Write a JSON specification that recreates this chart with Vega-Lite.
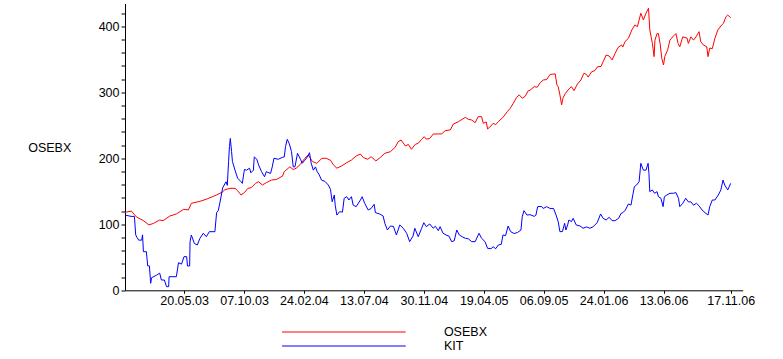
{
  "$schema": "https://vega.github.io/schema/vega-lite/v6.json",
  "width": 617.7,
  "height": 286.8,
  "autosize": {"type": "none"},
  "padding": {"left": 125, "top": 3.5, "right": 40.3, "bottom": 68.7},
  "background": "white",
  "config": {
    "view": {"stroke": null},
    "font": "Liberation Sans",
    "axis": {"domainColor": "black", "tickColor": "black", "labelColor": "black", "titleColor": "black", "labelFont": "Liberation Sans", "titleFont": "Liberation Sans", "grid": false, "domainWidth": 1, "tickWidth": 1}
  },
  "datasets": {
    "osebx": [
      {"date":"2003-01-02","value":118},{"date":"2003-01-17","value":120},{"date":"2003-01-29","value":111},{"date":"2003-02-14","value":105.5},{"date":"2003-02-27","value":99},{"date":"2003-03-10","value":101.5},{"date":"2003-03-24","value":106.5},{"date":"2003-04-01","value":105.5},{"date":"2003-04-17","value":112.6},{"date":"2003-05-02","value":115.6},{"date":"2003-05-19","value":122.7},{"date":"2003-05-30","value":121.7},{"date":"2003-06-06","value":131.8},{"date":"2003-06-26","value":134.8},{"date":"2003-07-11","value":138},{"date":"2003-08-04","value":144.4},{"date":"2003-08-19","value":149.4},{"date":"2003-08-22","value":152},{"date":"2003-09-04","value":154.5},{"date":"2003-09-16","value":154.5},{"date":"2003-09-22","value":151},{"date":"2003-09-30","value":144.4},{"date":"2003-10-08","value":148},{"date":"2003-10-16","value":154.5},{"date":"2003-10-24","value":155.5},{"date":"2003-11-03","value":162},{"date":"2003-11-10","value":164.5},{"date":"2003-11-19","value":159.5},{"date":"2003-11-28","value":163},{"date":"2003-12-10","value":167},{"date":"2003-12-22","value":168},
      {"date":"2004-01-05","value":173},{"date":"2004-01-09","value":179.7},{"date":"2004-01-22","value":187},{"date":"2004-01-30","value":183},{"date":"2004-02-06","value":185},{"date":"2004-02-16","value":191},{"date":"2004-02-26","value":200},{"date":"2004-03-05","value":205},{"date":"2004-03-15","value":195},{"date":"2004-03-25","value":192.4},{"date":"2004-04-06","value":200},{"date":"2004-04-16","value":200},{"date":"2004-04-26","value":197},{"date":"2004-05-03","value":190},{"date":"2004-05-11","value":185},{"date":"2004-05-21","value":188},{"date":"2004-06-03","value":193.4},{"date":"2004-06-14","value":197.4},{"date":"2004-06-25","value":203.5},{"date":"2004-07-05","value":206.5},{"date":"2004-07-12","value":201},{"date":"2004-07-22","value":198.5},{"date":"2004-07-30","value":202.4},{"date":"2004-08-10","value":196},{"date":"2004-08-20","value":201},{"date":"2004-08-31","value":207.5},{"date":"2004-09-13","value":210},{"date":"2004-09-24","value":216.6},{"date":"2004-10-01","value":225},{"date":"2004-10-08","value":227.7},{"date":"2004-10-18","value":218.6},{"date":"2004-10-25","value":221},{"date":"2004-11-01","value":213.6},{"date":"2004-11-10","value":221},{"date":"2004-11-17","value":222.7},{"date":"2004-11-25","value":228.7},{"date":"2004-12-01","value":232.7},{"date":"2004-12-06","value":229},{"date":"2004-12-14","value":230},{"date":"2004-12-22","value":236.8},
      {"date":"2005-01-03","value":236.8},{"date":"2005-01-11","value":237},{"date":"2005-01-19","value":241.8},{"date":"2005-01-31","value":243},{"date":"2005-02-07","value":252},{"date":"2005-02-18","value":255},{"date":"2005-02-25","value":258},{"date":"2005-03-07","value":262},{"date":"2005-03-14","value":259},{"date":"2005-03-22","value":258},{"date":"2005-03-30","value":254},{"date":"2005-04-06","value":263},{"date":"2005-04-14","value":263},{"date":"2005-04-18","value":253},{"date":"2005-04-25","value":255},{"date":"2005-04-28","value":244.4},{"date":"2005-05-06","value":249},{"date":"2005-05-11","value":253},{"date":"2005-05-17","value":251},{"date":"2005-05-23","value":255.5},{"date":"2005-06-03","value":262},{"date":"2005-06-13","value":270.6},{"date":"2005-06-20","value":275.7},{"date":"2005-06-27","value":283.3},{"date":"2005-07-05","value":292.4},{"date":"2005-07-11","value":296},{"date":"2005-07-18","value":291},{"date":"2005-07-25","value":294},{"date":"2005-08-01","value":302.4},{"date":"2005-08-05","value":303},{"date":"2005-08-15","value":308.5},{"date":"2005-08-22","value":307.6},{"date":"2005-08-29","value":314.5},{"date":"2005-09-05","value":318.6},{"date":"2005-09-13","value":319.3},{"date":"2005-09-21","value":327},{"date":"2005-09-29","value":327.6},{"date":"2005-10-03","value":328},{"date":"2005-10-07","value":311},{"date":"2005-10-10","value":308.6},{"date":"2005-10-14","value":296},{"date":"2005-10-18","value":281},{"date":"2005-10-21","value":291},{"date":"2005-10-27","value":298.5},{"date":"2005-11-02","value":303.5},{"date":"2005-11-10","value":308.6},{"date":"2005-11-16","value":302.4},{"date":"2005-11-24","value":312.6},{"date":"2005-12-02","value":318.6},{"date":"2005-12-09","value":328.8},{"date":"2005-12-15","value":327},{"date":"2005-12-19","value":323},{"date":"2005-12-27","value":331},
      {"date":"2006-01-04","value":333},{"date":"2006-01-10","value":338.8},{"date":"2006-01-18","value":339},{"date":"2006-01-23","value":346.4},{"date":"2006-01-30","value":356.5},{"date":"2006-02-06","value":355},{"date":"2006-02-13","value":349},{"date":"2006-02-20","value":359},{"date":"2006-02-27","value":368},{"date":"2006-03-07","value":371.7},{"date":"2006-03-10","value":368.6},{"date":"2006-03-15","value":376.7},{"date":"2006-03-23","value":381.8},{"date":"2006-03-31","value":394.4},{"date":"2006-04-07","value":402},{"date":"2006-04-13","value":399.4},{"date":"2006-04-21","value":419.7},{"date":"2006-04-27","value":409.5},{"date":"2006-05-03","value":419.7},{"date":"2006-05-09","value":427.3},{"date":"2006-05-12","value":394.4},{"date":"2006-05-18","value":374},{"date":"2006-05-22","value":354},{"date":"2006-05-24","value":379},{"date":"2006-05-29","value":389},{"date":"2006-06-01","value":389},{"date":"2006-06-05","value":374},{"date":"2006-06-09","value":351.5},{"date":"2006-06-13","value":341.4},{"date":"2006-06-16","value":354},{"date":"2006-06-23","value":365},{"date":"2006-06-28","value":379},{"date":"2006-07-06","value":385},{"date":"2006-07-12","value":389},{"date":"2006-07-17","value":374},{"date":"2006-07-21","value":369},{"date":"2006-07-28","value":384},{"date":"2006-08-07","value":382},{"date":"2006-08-10","value":374},{"date":"2006-08-16","value":384},{"date":"2006-08-22","value":379},{"date":"2006-08-28","value":384},{"date":"2006-09-04","value":391.8},{"date":"2006-09-08","value":376.7},{"date":"2006-09-14","value":371.7},{"date":"2006-09-22","value":369},{"date":"2006-09-25","value":354},{"date":"2006-09-29","value":367},{"date":"2006-10-05","value":366},{"date":"2006-10-11","value":381.8},{"date":"2006-10-18","value":394.4},{"date":"2006-10-25","value":400.5},{"date":"2006-10-31","value":404.5},{"date":"2006-11-06","value":414.6},{"date":"2006-11-10","value":417},{"date":"2006-11-17","value":413}
    ],
    "kit": [
      {"date":"2003-01-02","value":114},{"date":"2003-01-16","value":112},{"date":"2003-01-24","value":112},{"date":"2003-01-27","value":84},{"date":"2003-01-30","value":80},{"date":"2003-02-03","value":76},{"date":"2003-02-10","value":76},{"date":"2003-02-12","value":84},{"date":"2003-02-14","value":58.5},{"date":"2003-02-21","value":58.5},{"date":"2003-02-24","value":37},{"date":"2003-02-28","value":37},{"date":"2003-03-03","value":10.6},{"date":"2003-03-05","value":19},{"date":"2003-03-17","value":23},{"date":"2003-03-24","value":26},{"date":"2003-03-28","value":15.6},{"date":"2003-04-04","value":15.6},{"date":"2003-04-09","value":5.5},{"date":"2003-04-14","value":5.5},{"date":"2003-04-15","value":20.6},{"date":"2003-05-02","value":20.6},{"date":"2003-05-07","value":41.8},{"date":"2003-05-14","value":39.7},{"date":"2003-05-20","value":51},{"date":"2003-05-26","value":51},{"date":"2003-05-28","value":36.8},{"date":"2003-06-02","value":36.8},{"date":"2003-06-03","value":73.7},{"date":"2003-06-06","value":83.8},{"date":"2003-06-13","value":71},{"date":"2003-06-20","value":68.7},{"date":"2003-06-26","value":78.8},{"date":"2003-07-04","value":86.4},{"date":"2003-07-11","value":81.2},{"date":"2003-07-18","value":88.8},{"date":"2003-07-31","value":88.8},{"date":"2003-08-04","value":117.6},{"date":"2003-08-08","value":121},{"date":"2003-08-13","value":136.8},{"date":"2003-08-18","value":155},{"date":"2003-08-26","value":164.5},{"date":"2003-08-29","value":159},{"date":"2003-09-01","value":195},{"date":"2003-09-03","value":217.6},{"date":"2003-09-05","value":230},{"date":"2003-09-08","value":210},{"date":"2003-09-10","value":195},{"date":"2003-09-16","value":182},{"date":"2003-09-22","value":170},{"date":"2003-09-30","value":164.5},{"date":"2003-10-03","value":162},{"date":"2003-10-08","value":183},{"date":"2003-10-13","value":182},{"date":"2003-10-20","value":185},{"date":"2003-10-23","value":178},{"date":"2003-10-29","value":182},{"date":"2003-10-31","value":202},{"date":"2003-11-06","value":198.5},{"date":"2003-11-10","value":190},{"date":"2003-11-17","value":179.7},{"date":"2003-11-24","value":172},{"date":"2003-11-28","value":179.7},{"date":"2003-12-08","value":177},{"date":"2003-12-12","value":187},{"date":"2003-12-16","value":200},{"date":"2003-12-26","value":198.5},
      {"date":"2004-01-05","value":201.5},{"date":"2004-01-09","value":202},{"date":"2004-01-12","value":217.6},{"date":"2004-01-16","value":228.7},{"date":"2004-01-21","value":221.7},{"date":"2004-01-26","value":210},{"date":"2004-01-30","value":187},{"date":"2004-02-03","value":187},{"date":"2004-02-09","value":207.5},{"date":"2004-02-16","value":198.5},{"date":"2004-02-20","value":192.4},{"date":"2004-02-26","value":197},{"date":"2004-03-03","value":202},{"date":"2004-03-08","value":208.5},{"date":"2004-03-12","value":192.4},{"date":"2004-03-17","value":182},{"date":"2004-03-22","value":187},{"date":"2004-03-26","value":179.7},{"date":"2004-03-31","value":174.7},{"date":"2004-04-05","value":167},{"date":"2004-04-13","value":165},{"date":"2004-04-21","value":159.5},{"date":"2004-04-26","value":153},{"date":"2004-04-30","value":134.2},{"date":"2004-05-05","value":144.4},{"date":"2004-05-07","value":129},{"date":"2004-05-11","value":114},{"date":"2004-05-17","value":119},{"date":"2004-05-24","value":118.5},{"date":"2004-05-28","value":139.4},{"date":"2004-06-03","value":141.8},{"date":"2004-06-08","value":136.8},{"date":"2004-06-14","value":141.8},{"date":"2004-06-18","value":129},{"date":"2004-06-25","value":126.7},{"date":"2004-07-05","value":136.8},{"date":"2004-07-09","value":141.8},{"date":"2004-07-15","value":131.8},{"date":"2004-07-23","value":121.7},{"date":"2004-07-30","value":124},{"date":"2004-08-06","value":130.3},{"date":"2004-08-09","value":117.6},{"date":"2004-08-19","value":115.6},{"date":"2004-08-27","value":112.6},{"date":"2004-08-31","value":101.5},{"date":"2004-09-06","value":91.4},{"date":"2004-09-13","value":97.4},{"date":"2004-09-20","value":96.9},{"date":"2004-09-27","value":83.8},{"date":"2004-10-05","value":99},{"date":"2004-10-13","value":94},{"date":"2004-10-21","value":86.4},{"date":"2004-10-28","value":73.7},{"date":"2004-11-05","value":82.3},{"date":"2004-11-09","value":94},{"date":"2004-11-17","value":81.2},{"date":"2004-11-25","value":94},{"date":"2004-11-30","value":102.4},{"date":"2004-12-06","value":96.4},{"date":"2004-12-14","value":100.5},{"date":"2004-12-22","value":94},{"date":"2004-12-27","value":97},
      {"date":"2005-01-03","value":90.3},{"date":"2005-01-07","value":96.4},{"date":"2005-01-14","value":86.4},{"date":"2005-01-21","value":83.8},{"date":"2005-01-28","value":82},{"date":"2005-02-03","value":73.7},{"date":"2005-02-09","value":75},{"date":"2005-02-15","value":91.4},{"date":"2005-02-21","value":83.8},{"date":"2005-02-28","value":81},{"date":"2005-03-07","value":78.8},{"date":"2005-03-14","value":78},{"date":"2005-03-22","value":73.7},{"date":"2005-03-30","value":73.7},{"date":"2005-04-08","value":86.4},{"date":"2005-04-14","value":78.8},{"date":"2005-04-22","value":73.7},{"date":"2005-04-28","value":63.6},{"date":"2005-05-06","value":63},{"date":"2005-05-11","value":66},{"date":"2005-05-17","value":63},{"date":"2005-05-23","value":68.6},{"date":"2005-05-30","value":69.6},{"date":"2005-06-03","value":83.8},{"date":"2005-06-09","value":82.8},{"date":"2005-06-15","value":97.4},{"date":"2005-06-21","value":88.8},{"date":"2005-06-29","value":86},{"date":"2005-07-07","value":87.6},{"date":"2005-07-15","value":91.4},{"date":"2005-07-18","value":111.5},{"date":"2005-07-22","value":120.6},{"date":"2005-07-29","value":114},{"date":"2005-08-05","value":114.6},{"date":"2005-08-15","value":112},{"date":"2005-08-19","value":114},{"date":"2005-08-23","value":126.7},{"date":"2005-09-01","value":127},{"date":"2005-09-05","value":124},{"date":"2005-09-13","value":126.7},{"date":"2005-09-21","value":124},{"date":"2005-09-29","value":124},{"date":"2005-10-05","value":114},{"date":"2005-10-10","value":104},{"date":"2005-10-14","value":88.8},{"date":"2005-10-20","value":89},{"date":"2005-10-25","value":101.5},{"date":"2005-10-28","value":91.4},{"date":"2005-11-01","value":99},{"date":"2005-11-04","value":106.5},{"date":"2005-11-10","value":104},{"date":"2005-11-14","value":109},{"date":"2005-11-21","value":99},{"date":"2005-11-30","value":97.4},{"date":"2005-12-07","value":94},{"date":"2005-12-15","value":96},{"date":"2005-12-23","value":94},{"date":"2005-12-30","value":96},
      {"date":"2006-01-09","value":102.4},{"date":"2006-01-17","value":115.6},{"date":"2006-01-23","value":109},{"date":"2006-01-30","value":106.5},{"date":"2006-02-06","value":110.6},{"date":"2006-02-13","value":105.5},{"date":"2006-02-20","value":105.5},{"date":"2006-02-28","value":109},{"date":"2006-03-06","value":116.6},{"date":"2006-03-10","value":117.6},{"date":"2006-03-16","value":121.7},{"date":"2006-03-23","value":130.8},{"date":"2006-03-29","value":129},{"date":"2006-04-03","value":147},{"date":"2006-04-06","value":157},{"date":"2006-04-11","value":159.5},{"date":"2006-04-17","value":164.5},{"date":"2006-04-21","value":192.4},{"date":"2006-04-27","value":182},{"date":"2006-05-03","value":182},{"date":"2006-05-08","value":192.4},{"date":"2006-05-10","value":177},{"date":"2006-05-12","value":149.4},{"date":"2006-05-18","value":152},{"date":"2006-05-23","value":147},{"date":"2006-05-29","value":149.4},{"date":"2006-06-01","value":141.8},{"date":"2006-06-07","value":139.4},{"date":"2006-06-12","value":126.7},{"date":"2006-06-15","value":141.8},{"date":"2006-06-21","value":144.4},{"date":"2006-06-28","value":147},{"date":"2006-07-06","value":147},{"date":"2006-07-12","value":148},{"date":"2006-07-18","value":139.4},{"date":"2006-07-21","value":126.7},{"date":"2006-07-28","value":131.8},{"date":"2006-08-04","value":139.4},{"date":"2006-08-10","value":134},{"date":"2006-08-16","value":134},{"date":"2006-08-22","value":129},{"date":"2006-08-29","value":131.8},{"date":"2006-09-04","value":128},{"date":"2006-09-11","value":121.7},{"date":"2006-09-18","value":117.6},{"date":"2006-09-25","value":114},{"date":"2006-09-29","value":126.7},{"date":"2006-10-05","value":136.8},{"date":"2006-10-11","value":136.8},{"date":"2006-10-19","value":144.4},{"date":"2006-10-25","value":152},{"date":"2006-10-30","value":167},{"date":"2006-11-03","value":159.5},{"date":"2006-11-10","value":152},{"date":"2006-11-17","value":162}
    ]
  },
  "encoding": {
    "x": {
      "field": "date",
      "type": "temporal",
      "scale": {"type": "utc", "domain": [{"year": 2003, "month": 1, "date": 2, "utc": true}, {"year": 2006, "month": 12, "date": 15, "utc": true}]},
      "axis": {
        "title": null,
        "values": [
          {"year": 2003, "month": 5, "date": 20, "utc": true},
          {"year": 2003, "month": 10, "date": 7, "utc": true},
          {"year": 2004, "month": 2, "date": 24, "utc": true},
          {"year": 2004, "month": 7, "date": 13, "utc": true},
          {"year": 2004, "month": 11, "date": 30, "utc": true},
          {"year": 2005, "month": 4, "date": 19, "utc": true},
          {"year": 2005, "month": 9, "date": 6, "utc": true},
          {"year": 2006, "month": 1, "date": 24, "utc": true},
          {"year": 2006, "month": 6, "date": 13, "utc": true},
          {"year": 2006, "month": 11, "date": 17, "utc": true}
        ],
        "labelExpr": "utcFormat(datum.value, '%d.%m.%y')",
        "labelFontSize": 12.5,
        "labelPadding": 1,
        "tickSize": 3,
        "labelFlush": false,
        "labelOverlap": false
      }
    },
    "y": {
      "field": "value",
      "type": "quantitative",
      "scale": {"domain": [0, 434.5], "nice": false, "zero": true},
      "axis": {
        "values": [0, 20, 40, 60, 80, 100, 120, 140, 160, 180, 200, 220, 240, 260, 280, 300, 320, 340, 360, 380, 400, 420],
        "labelExpr": "datum.value % 100 === 0 ? datum.label : ''",
        "labelFontSize": 12.5,
        "labelPadding": 2,
        "tickSize": 4,
        "labelFlush": false,
        "labelOverlap": false,
        "title": "OSEBX",
        "titleAngle": 0,
        "titleAlign": "left",
        "titleBaseline": "middle",
        "titleX": -97.3,
        "titleY": 143.5,
        "titleFontSize": 12.5,
        "titleFontWeight": "normal"
      }
    }
  },
  "layer": [
    {
      "data": {"name": "osebx"},
      "mark": {"type": "line", "strokeWidth": 1},
      "encoding": {
        "color": {
          "datum": "OSEBX",
          "type": "nominal",
          "scale": {"domain": ["OSEBX", "KIT"], "range": ["#ff0000", "#0000ff"]},
          "legend": {
            "orient": "none",
            "legendX": 211.9,
            "legendY": 321.5,
            "title": null,
            "direction": "vertical",
            "symbolType": "M-10,0L10,0",
            "symbolSize": 153,
            "symbolStrokeWidth": 1,
            "labelOffset": 93,
            "labelFontSize": 12.5,
            "labelFont": "Liberation Sans",
            "labelColor": "black",
            "rowPadding": 0,
            "padding": 0
          }
        }
      }
    },
    {
      "data": {"name": "kit"},
      "mark": {"type": "line", "strokeWidth": 1},
      "encoding": {
        "color": {"datum": "KIT", "type": "nominal"}
      }
    }
  ]
}
